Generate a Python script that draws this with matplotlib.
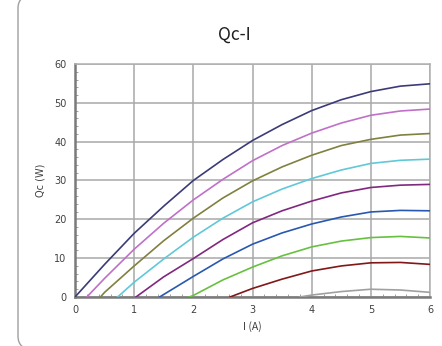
import matplotlib
matplotlib.use("Agg")
import matplotlib.pyplot as plt
from matplotlib.patches import FancyBboxPatch
from matplotlib.ticker import MultipleLocator

# current (A) and cooling power Qc (W), one list per curve
curve_x = [
    [0, 0.5, 1, 1.5, 2, 2.5, 3, 3.5, 4, 4.5, 5, 5.5, 6],
    [0.2, 0.5, 1, 1.5, 2, 2.5, 3, 3.5, 4, 4.5, 5, 5.5, 6],
    [0.43, 0.5, 1, 1.5, 2, 2.5, 3, 3.5, 4, 4.5, 5, 5.5, 6],
    [0.72, 1, 1.5, 2, 2.5, 3, 3.5, 4, 4.5, 5, 5.5, 6],
    [1.03, 1.5, 2, 2.5, 3, 3.5, 4, 4.5, 5, 5.5, 6],
    [1.43, 2, 2.5, 3, 3.5, 4, 4.5, 5, 5.5, 6],
    [1.93, 2, 2.5, 3, 3.5, 4, 4.5, 5, 5.5, 6],
    [2.62, 3, 3.5, 4, 4.5, 5, 5.5, 6],
    [3.8, 4, 4.5, 5, 5.5, 6],
]
curve_q = [
    [0, 8.4, 16.4, 23.4, 30.0, 35.4, 40.3, 44.4, 48.0, 50.8, 52.9, 54.3, 54.9],
    [0, 4.8, 12.3, 19.0, 25.0, 30.3, 35.1, 39.0, 42.2, 44.8, 46.8, 47.9, 48.4],
    [0, 1.2, 8.0, 14.5, 20.3, 25.5, 29.9, 33.5, 36.5, 39.0, 40.6, 41.7, 42.1],
    [0, 3.8, 9.8, 15.4, 20.3, 24.5, 27.8, 30.5, 32.7, 34.4, 35.2, 35.5],
    [0, 5.2, 9.9, 14.8, 19.1, 22.2, 24.7, 26.8, 28.2, 28.8, 29.0],
    [0, 5.3, 9.8, 13.6, 16.5, 18.8, 20.6, 21.9, 22.3, 22.2],
    [0, 0.4, 4.4, 7.7, 10.6, 12.9, 14.4, 15.3, 15.6, 15.2],
    [0, 2.2, 4.6, 6.7, 8.0, 8.8, 8.9, 8.4],
    [0, 0.5, 1.4, 2.0, 1.8, 1.2],
]
curve_colors = ["#3b3b78", "#c070c8", "#808040", "#60c8d8", "#802880",
                "#2858b0", "#68c040", "#801818", "#a0a0a0"]

title = "Qc-I"
x_label = "I (A)"
y_label = "Qc (W)"

fig = plt.figure(figsize=(4.42, 3.46), dpi=100)

# rounded frame round the chart area
frame = FancyBboxPatch((18 / 442, -0.012), 430 / 442, (346 - 11) / 346 + 0.06,
                       boxstyle="round,pad=0,rounding_size=0.04",
                       transform=fig.transFigure, facecolor="white",
                       edgecolor="#a0a0a0", linewidth=1.0, zorder=-5)
fig.patches.append(frame)

ax = fig.add_axes([75 / 442, (346 - 297) / 346, 355 / 442, 233 / 346])
ax.set_zorder(2)
ax.set_facecolor("white")

for xs, qs, c in zip(curve_x, curve_q, curve_colors):
    ax.plot(xs, qs, color=c, linewidth=1.2, zorder=3)

ax.set_xlim(0, 6)
ax.set_ylim(0, 60)
ax.xaxis.set_major_locator(MultipleLocator(1))
ax.xaxis.set_minor_locator(MultipleLocator(0.2))
ax.yaxis.set_major_locator(MultipleLocator(10))
ax.yaxis.set_minor_locator(MultipleLocator(2))
ax.grid(True, which="major", color="#a8a8a8", linewidth=1.1, zorder=1)
ax.set_axisbelow(True)

ax.tick_params(which="major", length=0, labelsize=7, labelcolor="#404040", pad=6)
ax.tick_params(which="minor", direction="in", length=2.5, color="#909090", width=0.6)

for side in ["top", "right"]:
    ax.spines[side].set_color("#b0b0b0")
    ax.spines[side].set_linewidth(1.1)
for side in ["left", "bottom"]:
    ax.spines[side].set_color("#7a7a7a")
    ax.spines[side].set_linewidth(1.8)

ax.set_xlabel(x_label, fontsize=7.5, color="#404040", family=["Noto Sans CJK JP", "DejaVu Sans"], labelpad=4)
ax.set_ylabel(y_label, fontsize=7, color="#404040", labelpad=6)
fig.text(0.5 + 0.03, (346 - 35) / 346, title, ha="center", va="center",
         fontsize=12.5, color="#202020", family=["Noto Sans CJK JP", "DejaVu Sans"])

fig.savefig("out.png", dpi=100)
